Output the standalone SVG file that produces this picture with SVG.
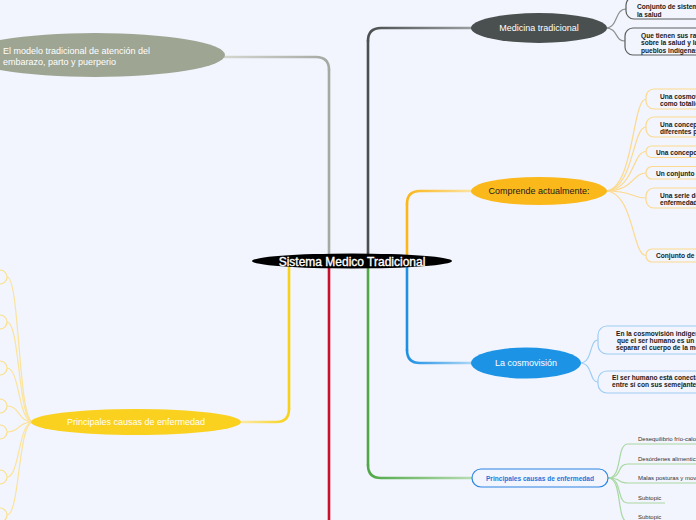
<svg xmlns="http://www.w3.org/2000/svg" width="696" height="520" viewBox="0 0 696 520">
<defs>
<style>
text{font-family:"Liberation Sans",Arial,sans-serif}
.trunk{fill:none;stroke-width:2.6;stroke-linecap:round}
.sub{fill:none;stroke-width:1.2}
.nt{font-size:9px;fill:#fff;text-anchor:middle}
.bt{font-size:6.6px;font-weight:bold;fill:#1a1a1a}
.gt{font-size:6px;fill:#333}
.box{fill:#f2f5fd;stroke-width:1.2}
</style>
<linearGradient id="gGray" gradientUnits="userSpaceOnUse" x1="329" y1="0" x2="225" y2="0"><stop offset="0" stop-color="#a6a9a2"/><stop offset="1" stop-color="#d3d5cf"/></linearGradient>
<linearGradient id="gDark" gradientUnits="userSpaceOnUse" x1="368" y1="0" x2="471" y2="0"><stop offset="0" stop-color="#4a4f4f"/><stop offset="1" stop-color="#9a9d9d"/></linearGradient>
<linearGradient id="gOrange" gradientUnits="userSpaceOnUse" x1="407" y1="0" x2="471" y2="0"><stop offset="0" stop-color="#fbb61a"/><stop offset="1" stop-color="#fde2a0"/></linearGradient>
<linearGradient id="gBlue" gradientUnits="userSpaceOnUse" x1="407" y1="0" x2="471" y2="0"><stop offset="0" stop-color="#1e90e4"/><stop offset="1" stop-color="#a9d5f6"/></linearGradient>
<linearGradient id="gGreen" gradientUnits="userSpaceOnUse" x1="368" y1="0" x2="472" y2="0"><stop offset="0" stop-color="#4fa847"/><stop offset="1" stop-color="#b7dcb2"/></linearGradient>
<linearGradient id="gYellow" gradientUnits="userSpaceOnUse" x1="289" y1="0" x2="241" y2="0"><stop offset="0" stop-color="#f8d11a"/><stop offset="1" stop-color="#fbe9a6"/></linearGradient>
</defs>
<rect width="696" height="520" fill="#f2f5fd"/>

<g id="connectors">
  <path class="trunk" stroke="#a6a9a2" d="M329,261 V70"/>
  <path class="trunk" stroke="url(#gGray)" d="M329,70 Q329,57 316,57 H225"/>
  <path class="trunk" stroke="#4a4f4f" d="M368,261 V41"/>
  <path class="trunk" stroke="url(#gDark)" d="M368,41 Q368,28 381,28 H471"/>
  <path class="trunk" stroke="#fbb61a" d="M407,261 V204"/>
  <path class="trunk" stroke="url(#gOrange)" d="M407,204 Q407,191 420,191 H471"/>
  <path class="trunk" stroke="#f8d11a" d="M289,261 V409"/>
  <path class="trunk" stroke="url(#gYellow)" d="M289,409 Q289,422 276,422 H241"/>
  <path class="trunk" stroke="#c8102e" d="M329,261 V522"/>
  <path class="trunk" stroke="#4fa847" d="M368,261 V465"/>
  <path class="trunk" stroke="url(#gGreen)" d="M368,465 Q368,478 381,478 H472"/>
  <path class="trunk" stroke="#1e90e4" d="M407,261 V350"/>
  <path class="trunk" stroke="url(#gBlue)" d="M407,350 Q407,363 420,363 H471"/>

  <g stroke="#8d9090" class="sub">
    <path d="M605,28 C619,28 614,9 626,9"/>
    <path d="M605,28 C619,28 614,41 625,41"/>
  </g>
  <g stroke="#fcd98e" class="sub">
    <path d="M605,191 C634,191 632,99 646,99"/>
    <path d="M605,191 C634,191 632,127 646,127"/>
    <path d="M605,191 C634,191 632,151.5 646,151.5"/>
    <path d="M605,191 C634,191 632,173 646,173"/>
    <path d="M605,191 C634,191 632,198 646,198"/>
    <path d="M605,191 C634,191 632,255.5 646,255.5"/>
  </g>
  <g stroke="#9fcdf4" class="sub">
    <path d="M580,363 C593,363 589,340 598,340"/>
    <path d="M580,363 C593,363 589,382 598,382"/>
  </g>
  <g stroke="#a9d8a3" class="sub">
    <path d="M608,478 C623,478 616,444 628,444 H700"/>
    <path d="M608,478 C623,478 616,464 628,464 H700"/>
    <path d="M608,478 C623,478 616,483 628,483 H700"/>
    <path d="M608,478 C623,478 616,503 628,503 H665"/>
    <path d="M608,478 C623,478 616,522 628,522 H665"/>
  </g>
  <g stroke="#fbe39a" class="sub">
    <path d="M33,422 C18,422 20,277 7,277"/>
    <path d="M33,422 C18,422 20,322 7,322"/>
    <path d="M33,422 C18,422 20,368 7,368"/>
    <path d="M33,422 C18,422 20,406 7,406"/>
    <path d="M33,422 C18,422 20,432 7,432"/>
    <path d="M33,422 C18,422 20,477 7,477"/>
    <path d="M33,422 C18,422 20,515 7,515"/>
  </g>
</g>

<g id="n-central">
  <ellipse cx="352" cy="261" rx="100" ry="7.5" fill="#000"/>
  <text x="352" y="265.5" font-size="12" fill="#fff" stroke="#fff" stroke-width="0.35" text-anchor="middle">Sistema Medico Tradicional</text>
</g>

<g id="n-modelo">
  <ellipse cx="95" cy="55" rx="130" ry="22" fill="#9ea593"/>
  <text x="3" y="54" font-size="9" fill="#fff">El modelo tradicional de atención del</text>
  <text x="3" y="64.5" font-size="9" fill="#fff">embarazo, parto y puerperio</text>
</g>

<g id="n-medicina">
  <ellipse cx="539" cy="28" rx="68" ry="15" fill="#4a4f4f"/>
  <text class="nt" x="539" y="31">Medicina tradicional</text>
</g>
<g id="n-med-1">
  <rect class="box" stroke="#5a5e5e" x="626" y="-3" width="90" height="22" rx="8"/>
  <text class="bt" x="637" y="9">Conjunto de sistem</text>
  <text class="bt" x="637" y="16.5">la salud</text>
</g>
<g id="n-med-2">
  <rect class="box" stroke="#5a5e5e" x="625" y="28" width="90" height="27" rx="8"/>
  <text class="bt" x="641" y="37.5">Que tienen sus ra</text>
  <text class="bt" x="641" y="45">sobre la salud y la</text>
  <text class="bt" x="641" y="52.5">pueblos indígenas</text>
</g>

<g id="n-comprende">
  <ellipse cx="539" cy="191" rx="68" ry="14" fill="#fbb81b"/>
  <text x="539" y="194" font-size="9" fill="#1a1a1a" text-anchor="middle">Comprende actualmente:</text>
</g>
<g id="n-comp-1">
  <rect class="box" stroke="#fcd98e" x="646" y="89" width="70" height="20" rx="8"/>
  <text class="bt" x="660" y="98.5">Una cosmov</text>
  <text class="bt" x="660" y="105.5">como totalid</text>
</g>
<g id="n-comp-2">
  <rect class="box" stroke="#fcd98e" x="646" y="117" width="70" height="20" rx="8"/>
  <text class="bt" x="660" y="126.5">Una concep</text>
  <text class="bt" x="660" y="134">diferentes p</text>
</g>
<g id="n-comp-3">
  <rect class="box" stroke="#fcd98e" x="646" y="146" width="70" height="11.5" rx="5.5"/>
  <text class="bt" x="656" y="154.5">Una concepc</text>
</g>
<g id="n-comp-4">
  <rect class="box" stroke="#fcd98e" x="646" y="166.5" width="70" height="12.5" rx="6"/>
  <text class="bt" x="656" y="176">Un conjunto</text>
</g>
<g id="n-comp-5">
  <rect class="box" stroke="#fcd98e" x="646" y="188" width="70" height="20" rx="8"/>
  <text class="bt" x="660" y="197.5">Una serie de</text>
  <text class="bt" x="660" y="204.7">enfermedad</text>
</g>
<g id="n-comp-6">
  <rect class="box" stroke="#fcd98e" x="646" y="249" width="70" height="13" rx="6"/>
  <text class="bt" x="656" y="257.5">Conjunto de</text>
</g>

<g id="n-cosmovision">
  <ellipse cx="526" cy="363" rx="55" ry="15.5" fill="#1d93e6"/>
  <text class="nt" x="526" y="366">La cosmovisión</text>
</g>
<g id="n-cos-1">
  <rect class="box" stroke="#9fcdf4" x="598" y="326" width="120" height="28" rx="9"/>
  <text class="bt" x="616" y="336">En la cosmovisión indígen</text>
  <text class="bt" x="617" y="343">que el ser humano es un f</text>
  <text class="bt" x="616" y="350">separar el cuerpo de la me</text>
</g>
<g id="n-cos-2">
  <rect class="box" stroke="#9fcdf4" x="598" y="371" width="120" height="22" rx="9"/>
  <text class="bt" x="612" y="379.5">El ser humano está conecta</text>
  <text class="bt" x="612" y="386.7">entre sí con sus semejante</text>
</g>

<g id="n-causas-right">
  <rect x="472" y="469" width="136" height="18" rx="9" fill="#f2f5fd" stroke="#2a84e4" stroke-width="1.2"/>
  <text x="540" y="480.5" font-size="6.6" font-weight="bold" fill="#1f78d9" text-anchor="middle">Principales causas de enfermedad</text>
</g>
<g id="n-causa-1"><text class="gt" x="638" y="440.5">Desequilibrio frío-calo</text></g>
<g id="n-causa-2"><text class="gt" x="638" y="460.5">Desórdenes alimentic</text></g>
<g id="n-causa-3"><text class="gt" x="638" y="480">Malas posturas y mov</text></g>
<g id="n-causa-4"><text class="gt" x="638" y="500">Subtopic</text></g>
<g id="n-causa-5"><text class="gt" x="638" y="519">Subtopic</text></g>

<g id="n-causas-left">
  <ellipse cx="136" cy="422" rx="105" ry="13" fill="#fad11e"/>
  <text class="nt" x="136" y="425">Principales causas de enfermedad</text>
</g>
<g id="n-left-children" fill="#f2f5fd" stroke="#fbe08a" stroke-width="1.2">
  <rect x="-60" y="270" width="67" height="14" rx="7"/>
  <rect x="-60" y="315" width="67" height="14" rx="7"/>
  <rect x="-60" y="361" width="67" height="14" rx="7"/>
  <rect x="-60" y="399" width="67" height="14" rx="7"/>
  <rect x="-60" y="425" width="67" height="14" rx="7"/>
  <rect x="-60" y="470" width="67" height="14" rx="7"/>
  <rect x="-60" y="508" width="67" height="14" rx="7"/>
</g>
</svg>
